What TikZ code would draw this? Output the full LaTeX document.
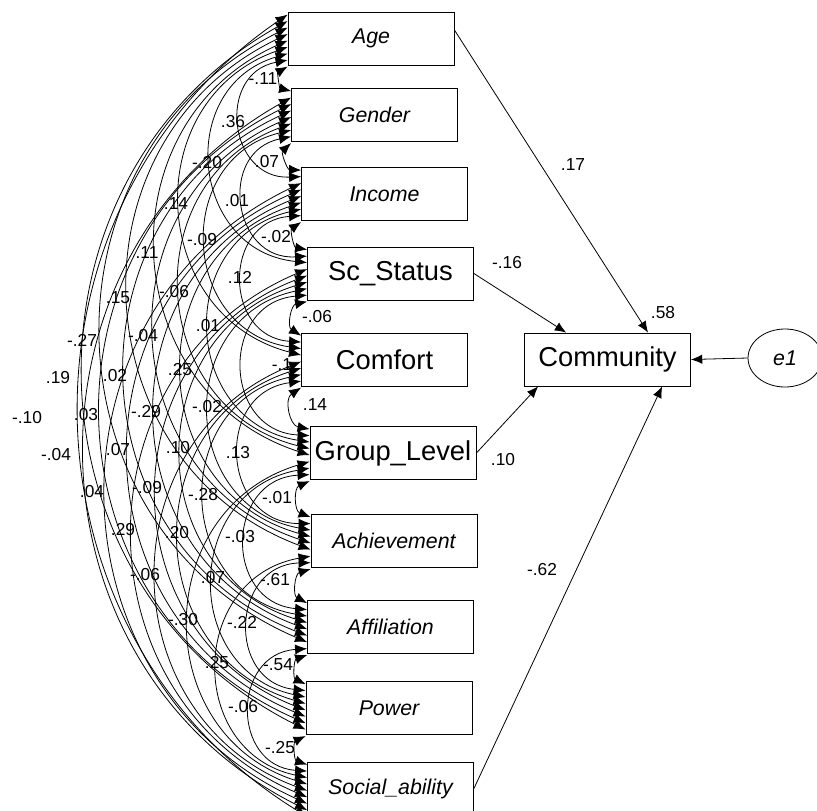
\documentclass[tikz,border=0pt]{standalone}
\usepackage{fontspec}
\setmainfont{Liberation Sans}
\usetikzlibrary{arrows.meta,calc,shapes.geometric}
\begin{document}
\begin{tikzpicture}[x=0.75pt,y=-0.75pt,line width=0.6pt]
            \tikzstyle{var}=[draw,minimum width=124.5pt,minimum height=39.75pt,inner sep=0pt,font=\fontsize{16}{18}\selectfont\itshape]
            \tikzstyle{varb}=[var,font=\fontsize{20.5}{22}\selectfont]
            \tikzstyle{coef}=[inner sep=1pt,font=\fontsize{13}{15}\selectfont]
            \tikzset{edge/.style = {-{Latex[length=8.5pt,width=7pt]}}}
            \tikzset{cov/.style = {{Latex[length=9pt,width=7.5pt]}-{Latex[length=9pt,width=7.5pt]}}}
            \useasboundingbox (0,0) rectangle (817,810);
            \node[var] (1) at (371,38.5) {Age};
            \node[var] (2) at (374.5,115) {Gender};
            \node[var] (3) at (384.5,194) {Income};
            \node[varb] (4) at (390.5,273.5) {Sc\_Status};
            \node[varb] (5) at (384.5,359.5) {Comfort};
            \node[varb] (6) at (393,453) {Group\_Level};
            \node[var] (7) at (394,541) {Achievement};
            \node[var] (8) at (390.5,627) {Affiliation};
            \node[var] (9) at (389,708) {Power};
            \node[var] (10) at (390.5,788.5) {Social\_ability};
            \node[varb] (com) at (607.5,359.5) {Community};
            \node[ellipse,draw,minimum width=55.5pt,minimum height=43.5pt,inner sep=0pt,font=\fontsize{16}{18}\selectfont\itshape] (e1) at (785,358) {e1};
            \foreach \i/\j/\lab/\lx/\ly in {1/2/-.11/263/79, 1/3/.36/233/122, 1/4/-.20/207/163, 1/5/.14/176/204, 1/6/.11/147/253, 1/7/.15/118/298, 1/8/-.27/82/340, 1/9/.19/58/378, 1/10/-.10/27/418,
              2/3/.07/267/162, 2/4/.01/237/201, 2/5/-.09/202/240, 2/6/-.06/174/292, 2/7/-.04/143/336, 2/8/.02/115/376, 2/9/.03/86/415, 2/10/-.04/56/455,
              3/4/-.02/276/237, 3/5/.12/240/277, 3/6/.01/208/326, 3/7/.25/180/370, 3/8/-.29/146/412, 3/9/.07/118/450, 3/10/.04/92/492,
              4/5/-.06/317/317, 4/6/-.1/282/365, 4/7/-.02/207/407, 4/8/.10/178/448, 4/9/-.09/147/488, 4/10/.29/123/530,
              5/6/.14/315/405, 5/7/.13/238/453, 5/8/-.28/203/495, 5/9/.20/177/533, 5/10/-.06/145/575,
              6/7/-.01/277/498, 6/8/-.03/240/537, 6/9/.07/213/578, 6/10/-.30/183/620,
              7/8/-.61/275/580, 7/9/-.22/242/622, 7/10/.25/217/663,
              8/9/-.54/278/665, 8/10/-.06/243/707,
              9/10/-.25/280/748}{
              \pgfmathsetmacro{\bend}{{68,86,79,73,69,67,65,62,57}[\j-\i-1]}
              \pgfmathsetmacro{\loose}{1/(3*0.3915*cos(\bend/2)^2)}
              \draw[cov] ($(\i.north west)+(0,{3+6.5*(9+\i-\j)})$) to[bend right=\bend,looseness=\loose] ($(\j.north west)+(0,{3+6.5*(\j-1-\i)})$);
              \node[coef] (l\i\j) at (\lx,\ly) {\lab};
            }
            \draw[edge] ([yshift=6.4pt]1.east) -- ([xshift=30.4pt]com.north);
            \draw[edge] (4.east) -- ([xshift=-31pt]com.north);
            \draw[edge] (6.east) -- ([xshift=-52pt]com.south);
            \draw[edge] (10.east) -- ([xshift=41pt]com.south);
            \draw[edge] (e1.west) -- (com.east);
            \node[coef] (p1) at (573,165) {.17};
            \node[coef] (p4) at (507,263) {-.16};
            \node[coef] (p6) at (503,460) {.10};
            \node[coef] (p10) at (542,570) {-.62};
            \node[coef] (r) at (663,313) {.58};
        \end{tikzpicture}
\end{document}
